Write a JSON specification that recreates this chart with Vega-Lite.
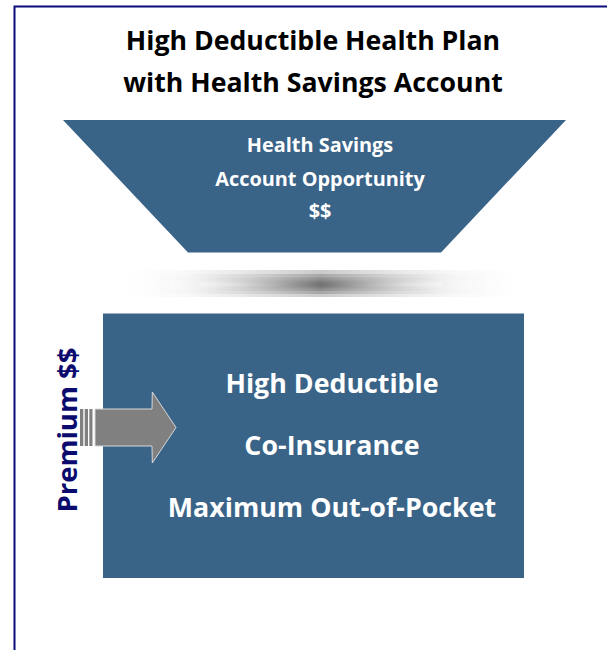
{
  "$schema": "https://vega.github.io/schema/vega-lite/v6.json",
  "width": 607,
  "height": 650,
  "autosize": {"type": "fit", "contains": "padding"},
  "padding": 0,
  "background": "white",
  "config": {"view": {"stroke": null}, "axis": {"disable": true}},
  "datasets": {
    "border": [{"x": 14.5, "x2": 640, "y": 6.5, "y2": 700}],
    "funnel": [
      {"y": 120, "left": 63, "right": 566},
      {"y": 252.5, "left": 188, "right": 441}
    ],
    "shadow": [
      {"band": 1, "x": 125, "x2": 517, "y": 270, "y2": 297},
      {"band": 2, "x": 135, "x2": 507, "y": 274, "y2": 294},
      {"band": 3, "x": 150, "x2": 492, "y": 277.5, "y2": 291},
      {"band": 4, "x": 170, "x2": 472, "y": 280.5, "y2": 288.5},
      {"band": 5, "x": 200, "x2": 442, "y": 282.5, "y2": 286.5}
    ],
    "box": [{"x": 103, "x2": 524, "y": 313.5, "y2": 578}],
    "arrow": [
      {"x": 95, "top": 409, "bottom": 446},
      {"x": 152, "top": 409, "bottom": 446},
      {"x": 152.3, "top": 392, "bottom": 463},
      {"x": 176, "top": 427.5, "bottom": 427.5}
    ],
    "stripes": [
      {"x": 80, "x2": 83.3, "y": 409, "y2": 446},
      {"x": 84.7, "x2": 88, "y": 409, "y2": 446},
      {"x": 89.3, "x2": 92.5, "y": 409, "y2": 446}
    ],
    "labels": [
      {"group": "title", "text": "High Deductible Health Plan", "x": 313, "y": 50},
      {"group": "title", "text": "with Health Savings Account", "x": 313, "y": 92},
      {"group": "funnel", "text": "Health Savings", "x": 320, "y": 151.5},
      {"group": "funnel", "text": "Account Opportunity", "x": 320, "y": 186},
      {"group": "funnel", "text": "$$", "x": 320, "y": 218},
      {"group": "box", "text": "High Deductible", "x": 332, "y": 393},
      {"group": "box", "text": "Co-Insurance", "x": 332, "y": 455},
      {"group": "box", "text": "Maximum Out-of-Pocket", "x": 332, "y": 517},
      {"group": "side", "text": "Premium $$", "x": 77, "y": 430}
    ]
  },
  "layer": [
    {
      "data": {"name": "border"},
      "mark": {"type": "rect", "clip": true, "fill": null, "fillOpacity": 0, "stroke": "#0b0b7a", "strokeWidth": 2},
      "encoding": {
        "x": {"field": "x", "type": "quantitative", "scale": {"domain": [0, 607], "nice": false, "zero": false}, "axis": null},
        "x2": {"field": "x2"},
        "y": {"field": "y", "type": "quantitative", "scale": {"domain": [0, 650], "nice": false, "zero": false, "reverse": true}, "axis": null},
        "y2": {"field": "y2"}
      }
    },
    {
      "data": {"name": "funnel"},
      "mark": {"type": "area", "orient": "horizontal", "color": "#3A6388", "opacity": 1},
      "encoding": {
        "y": {"field": "y", "type": "quantitative"},
        "x": {"field": "left", "type": "quantitative"},
        "x2": {"field": "right"}
      }
    },
    {
      "data": {"name": "shadow"},
      "mark": {
        "type": "rect",
        "opacity": 0.32,
        "fill": {
          "gradient": "linear",
          "x1": 0, "x2": 1, "y1": 0, "y2": 0,
          "stops": [
            {"offset": 0, "color": "#ffffff"},
            {"offset": 0.15, "color": "#eeeeee"},
            {"offset": 0.3, "color": "#b8b8b8"},
            {"offset": 0.5, "color": "#5a5a5a"},
            {"offset": 0.7, "color": "#b8b8b8"},
            {"offset": 0.85, "color": "#eeeeee"},
            {"offset": 1, "color": "#ffffff"}
          ]
        }
      },
      "encoding": {
        "x": {"field": "x", "type": "quantitative"},
        "x2": {"field": "x2"},
        "y": {"field": "y", "type": "quantitative"},
        "y2": {"field": "y2"}
      }
    },
    {
      "data": {"name": "box"},
      "mark": {"type": "rect", "color": "#3A6388"},
      "encoding": {
        "x": {"field": "x", "type": "quantitative"},
        "x2": {"field": "x2"},
        "y": {"field": "y", "type": "quantitative"},
        "y2": {"field": "y2"}
      }
    },
    {
      "data": {"name": "stripes"},
      "mark": {"type": "rect", "color": "#808080"},
      "encoding": {
        "x": {"field": "x", "type": "quantitative"},
        "x2": {"field": "x2"},
        "y": {"field": "y", "type": "quantitative"},
        "y2": {"field": "y2"}
      }
    },
    {
      "data": {"name": "arrow"},
      "mark": {"type": "area", "orient": "vertical", "fill": "#808080", "opacity": 1, "stroke": "#d8d8d8", "strokeWidth": 1},
      "encoding": {
        "x": {"field": "x", "type": "quantitative"},
        "y": {"field": "top", "type": "quantitative"},
        "y2": {"field": "bottom"}
      }
    },
    {
      "data": {"name": "labels"},
      "transform": [{"filter": "datum.group === 'title'"}],
      "mark": {"type": "text", "font": "Open Sans", "fontWeight": "bold", "fontSize": 26.7, "color": "#000000", "align": "center", "baseline": "alphabetic"},
      "encoding": {
        "x": {"field": "x", "type": "quantitative"},
        "y": {"field": "y", "type": "quantitative"},
        "text": {"field": "text"}
      }
    },
    {
      "data": {"name": "labels"},
      "transform": [{"filter": "datum.group === 'funnel'"}],
      "mark": {"type": "text", "font": "Open Sans", "fontWeight": "bold", "fontSize": 19.9, "color": "#ffffff", "align": "center", "baseline": "alphabetic"},
      "encoding": {
        "x": {"field": "x", "type": "quantitative"},
        "y": {"field": "y", "type": "quantitative"},
        "text": {"field": "text"}
      }
    },
    {
      "data": {"name": "labels"},
      "transform": [{"filter": "datum.group === 'box'"}],
      "mark": {"type": "text", "font": "Open Sans", "fontWeight": "bold", "fontSize": 26.8, "color": "#ffffff", "align": "center", "baseline": "alphabetic"},
      "encoding": {
        "x": {"field": "x", "type": "quantitative"},
        "y": {"field": "y", "type": "quantitative"},
        "text": {"field": "text"}
      }
    },
    {
      "data": {"name": "labels"},
      "transform": [{"filter": "datum.group === 'side'"}],
      "mark": {"type": "text", "font": "Open Sans", "fontWeight": "bold", "fontSize": 27.5, "color": "#0b0b6e", "align": "center", "baseline": "alphabetic", "angle": 270},
      "encoding": {
        "x": {"field": "x", "type": "quantitative"},
        "y": {"field": "y", "type": "quantitative"},
        "text": {"field": "text"}
      }
    }
  ]
}
